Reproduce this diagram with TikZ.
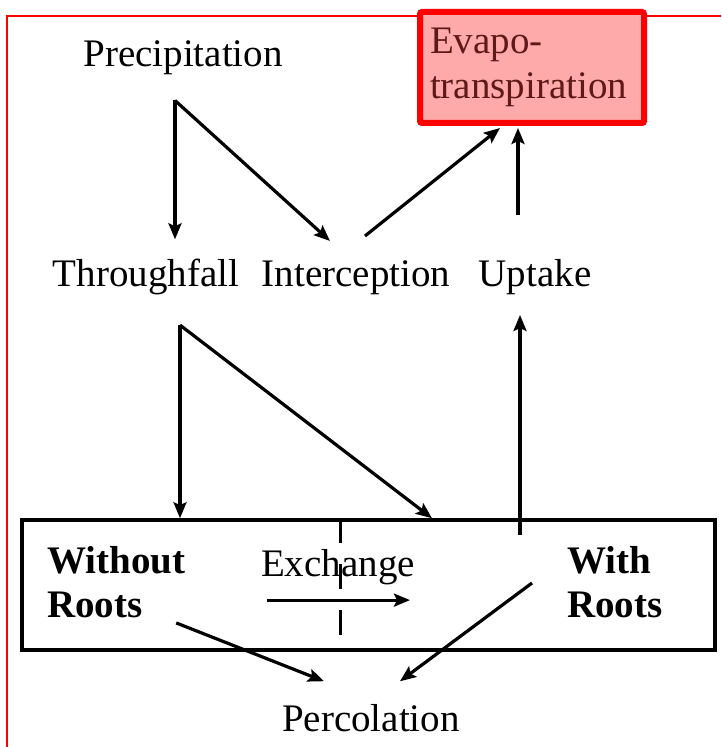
\documentclass[tikz,border=0pt]{standalone}
\usepackage{fontspec}
\setmainfont{Liberation Serif}
\usetikzlibrary{arrows.meta,calc}
\definecolor{evapfill}{RGB}{255,170,170}
\definecolor{evaptext}{RGB}{95,25,25}
\begin{document}
\begin{tikzpicture}[x=1pt,y=1pt,
  lbl/.style={inner sep=0pt, font=\fontsize{39pt}{44pt}\selectfont},
  boldlbl/.style={lbl, align=left, font=\fontsize{39pt}{44pt}\selectfont\bfseries},
  arr/.style={line width=3.2pt, -{Stealth[length=16pt,width=13pt,inset=3pt]}},
  evapbox/.style={draw=red, line width=6pt, fill=evapfill, rounded corners=2pt,
    minimum width=224pt, minimum height=111pt, text width=204pt, align=left,
    inner sep=0pt, text=evaptext, font=\fontsize{39pt}{45pt}\selectfont},
  rootbox/.style={draw, line width=3.5pt, minimum width=693pt, minimum height=130pt, inner sep=0pt},
]
\useasboundingbox (0,0) rectangle (721,747);
\fill[white] (0,0) rectangle (721,747);
\draw[red, line width=1.5pt] (7,0) -- (7,731) -- (721,731);

\node[evapbox] (evap) at (532,679.5) {Evapo-\\transpiration};

\node[lbl, anchor=base] (prec) at (183,680) {Precipitation};
\node[lbl, anchor=base] (thr) at (146,460) {Throughfall};
\node[lbl, anchor=base] (int) at (356,460) {Interception};
\node[lbl, anchor=base] (upt) at (535,460) {Uptake};
\node[lbl, anchor=base] (exc) at (338,170) {Exchange};
\node[lbl, anchor=base] (perc) at (371,15) {Percolation};

\node[rootbox] (box) at (368.5,162) {};
\node[boldlbl, anchor=west] (wo) at (47,165) {Without\\Roots};
\node[boldlbl, anchor=west] (wr) at (567,165) {With\\Roots};

\draw[line width=3pt, dash pattern=on 25pt off 21pt] ([xshift=-28.5pt]box.north) -- ++(0,-120);

\coordinate (pa) at ([xshift=-8pt,yshift=-25pt]prec.south);
\draw[arr] (pa) -- ($(pa |- thr.north)+(0,20)$);
\draw[arr] (pa) -- ([xshift=-26pt,yshift=20pt]int.north);
\draw[arr] ([xshift=9pt,yshift=25pt]int.north) -- ([xshift=-32pt,yshift=-2pt]evap.south);
\draw[arr] ([xshift=-17pt,yshift=45pt]upt.north) -- ([xshift=-14pt,yshift=-2pt]evap.south);

\coordinate (tb) at ([xshift=34pt,yshift=-29.5pt]thr.south);
\draw[arr] (tb) -- (tb |- box.north);
\draw[arr] (tb) -- ([xshift=63.5pt]box.north);
\draw[arr] ([xshift=151.5pt,yshift=-16.75pt]box.north) -- ([xshift=-15pt,yshift=-19.5pt]upt.south);

\draw[arr] ([xshift=-71pt,yshift=-14.5pt]exc.south) -- ([xshift=72pt,yshift=-14.5pt]exc.south);

\draw[arr] ([xshift=60pt,yshift=-5pt]wo.south) -- ([xshift=-47pt,yshift=23.5pt]perc.north);
\draw[arr] ([xshift=-35pt,yshift=-1pt]wr.west) -- ([xshift=29pt,yshift=23.5pt]perc.north);
\end{tikzpicture}
\end{document}
